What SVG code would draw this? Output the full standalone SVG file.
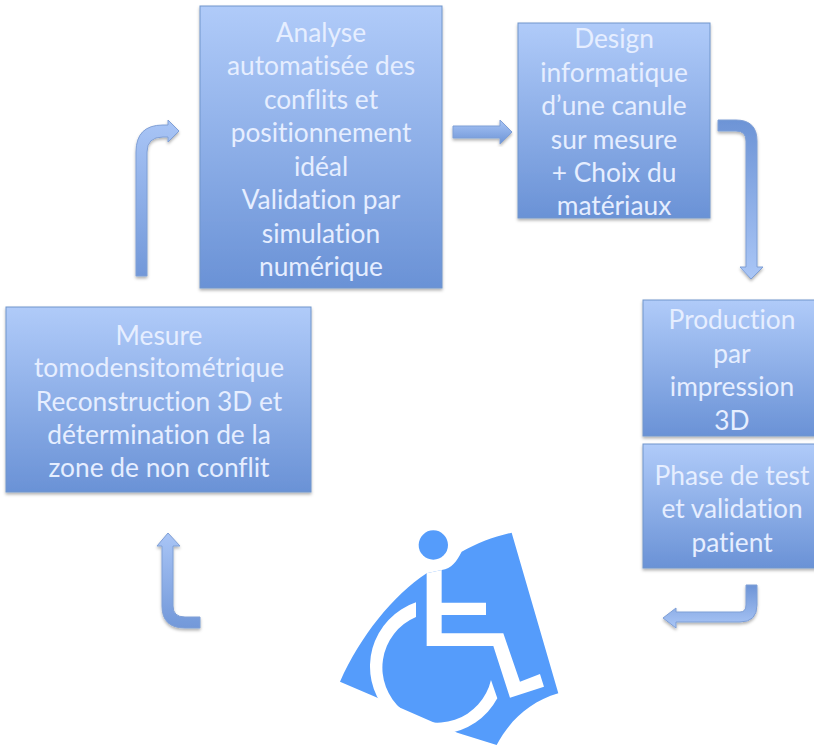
<svg xmlns="http://www.w3.org/2000/svg" width="814" height="745" viewBox="0 0 814 745">
<style>
.box{fill:url(#g);stroke:#7096cc;stroke-width:1;filter:url(#s)}
.arrow{stroke:#7f9fd6;stroke-width:1;filter:url(#s)}
text{font-family:"Lato","Open Sans",sans-serif;font-size:26.3px;fill:#e6eeff;text-anchor:middle;font-variant-ligatures:none}
.chair{fill:#559cfb}
</style>
<defs>
<linearGradient id="g" x1="0" y1="0" x2="0" y2="1"><stop offset="0" stop-color="#b0cbf9"/><stop offset="1" stop-color="#6a92d6"/></linearGradient>
<linearGradient id="av" x1="0" y1="0" x2="0" y2="1"><stop offset="0" stop-color="#a9c5f6"/><stop offset="1" stop-color="#7298d9"/></linearGradient>
<linearGradient id="ah" x1="0" y1="0" x2="0" y2="1"><stop offset="0" stop-color="#a9c5f6"/><stop offset="1" stop-color="#6d94d6"/></linearGradient>
<linearGradient id="ad" x1="0" y1="0" x2="0" y2="1"><stop offset="0" stop-color="#6d94d6"/><stop offset="1" stop-color="#aac6f6"/></linearGradient>
<filter id="s" x="-10%" y="-10%" width="120%" height="120%"><feDropShadow dx="0" dy="2" stdDeviation="1.5" flood-color="#000" flood-opacity="0.3"/></filter>
</defs>
<g id="connectors">
<path class="arrow" fill="url(#av)" d="M136,276V152Q136,125 163,125H168V120L179,131L168,142V137H163Q147,137 147,152V276Z"/>
<path class="arrow" fill="url(#ah)" d="M453,126H500V120L512,132L500,144V138H453Z"/>
<path class="arrow" fill="url(#ad)" d="M718,120H736Q757,120 757,141V267H763L751,279L740,267H746V141Q746,131 736,131H718Z"/>
<path class="arrow" fill="url(#ad)" d="M746,585H757V605Q757,622 740,622H676V628L663,618L676,608V612H740Q746,612 746,605Z"/>
<path class="arrow" fill="url(#av)" d="M200,628H185Q162,628 162,606V546H157L168,533L180,546H173V606Q173,617 185,617H200Z"/>
</g>
<g id="node-analyse">
<rect class="box" x="200" y="6" width="242" height="282"/>
<text x="321" y="42">Analyse</text><text x="321" y="75">automatisée des</text><text x="321" y="109">conflits et</text><text x="321" y="142">positionnement</text><text x="321" y="176">idéal</text><text x="321" y="209">Validation par</text><text x="321" y="243">simulation</text><text x="321" y="276">numérique</text>
</g>
<g id="node-design">
<rect class="box" x="518" y="23" width="192" height="195"/>
<text x="614" y="48">Design</text><text x="614" y="82">informatique</text><text x="614" y="115">d’une canule</text><text x="614" y="149">sur mesure</text><text x="614" y="182">+ Choix du</text><text x="614" y="215">matériaux</text>
</g>
<g id="node-production">
<rect class="box" x="643" y="300" width="175" height="136"/>
<text x="732" y="329">Production</text><text x="732" y="363">par</text><text x="732" y="396">impression</text><text x="732" y="430">3D</text>
</g>
<g id="node-test">
<rect class="box" x="643" y="444" width="175" height="124"/>
<text x="732" y="485">Phase de test</text><text x="732" y="518">et validation</text><text x="732" y="552">patient</text>
</g>
<g id="node-mesure">
<rect class="box" x="6" y="307" width="305" height="185"/>
<text x="159" y="345">Mesure</text><text x="159" y="377">tomodensitométrique</text><text x="159" y="411">Reconstruction 3D et</text><text x="159" y="444">détermination de la</text><text x="159" y="477">zone de non conflit</text>
</g>
<g id="wheelchair" transform="translate(340 520) scale(.3333)">
<path class="chair" d="M0,485C60,350 160,225 260,160L305,150C335,145 350,125 365,95C410,70 460,50 515,38L655,520C570,545 510,600 470,675L352,638L100,528Z"/>
<path fill="#fff" d="M228,247A203,203 0 1 0 472,535L453,480A165,165 0 1 1 228,291Z"/>
<path fill="#fff" d="M260,160L305,150V248H438V285H305V340H490L540,485L600,462L612,500L510,533L460,378H260Z"/>
<circle class="chair" cx="280" cy="75" r="44"/>
</g>
</svg>
